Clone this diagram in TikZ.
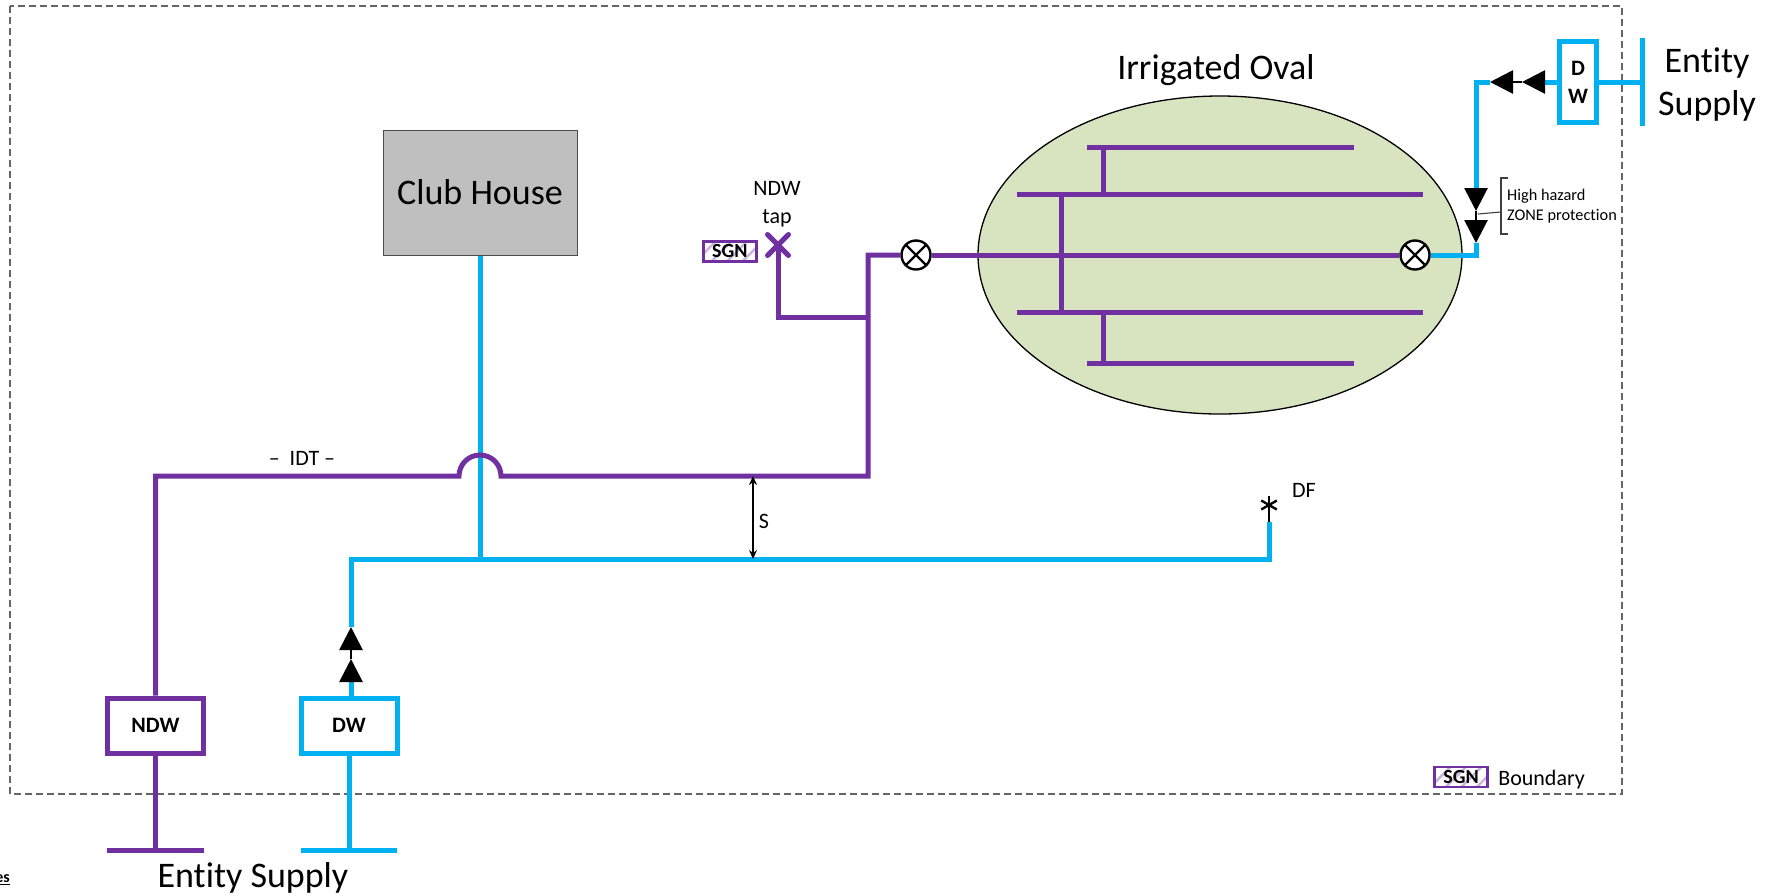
\documentclass[tikz,border=0pt]{standalone}
\usepackage{fontspec}
\setmainfont[Ligatures=NoCommon]{Carlito}
\usetikzlibrary{positioning, arrows.meta, shapes.geometric, shapes.misc, patterns.meta}
\definecolor{ndwcol}{HTML}{7030A0}
\definecolor{dwcol}{HTML}{00B0F0}
\definecolor{ovalcol}{HTML}{D8E3BF}
\definecolor{hatchcol}{HTML}{C9B5DD}

\begin{document}
\begin{tikzpicture}[
        x=1pt, y=-1pt,
        >={Stealth[length=9pt,width=8pt]},
        % Pipes
        ndwpipe/.style={draw=ndwcol, line width=5pt},
        dwpipe/.style={draw=dwcol, line width=5pt},
        % Meter boxes
        meter/.style={draw, rectangle, fill=white, line width=5pt, inner sep=0pt, minimum width=96pt, minimum height=55pt, align=center, font=\fontsize{22}{28}\selectfont\bfseries},
        % Check valves
        valve/.style={draw=black, line width=2.8pt, -{Triangle[length=23pt,width=23pt]}},
        % Isolating valves
        isol/.style={circle, draw=black, fill=white, line width=2.4pt, inner sep=0pt, minimum size=29pt,
            path picture={\draw[line width=2.4pt] (path picture bounding box.north west) -- (path picture bounding box.south east) (path picture bounding box.north east) -- (path picture bounding box.south west);}},
        % Signs
        sgn/.style={draw=ndwcol, line width=2.5pt, inner sep=0pt, minimum width=53pt, minimum height=20pt, font=\fontsize{20}{24}\selectfont\bfseries, pattern={Lines[angle=45,distance=11pt,line width=2.5pt]}, pattern color=hatchcol},
        big/.style={font=\fontsize{36}{43}\selectfont, align=center},
        mid/.style={font=\fontsize{22}{28}\selectfont, align=center},
        small/.style={font=\fontsize{16.3}{20}\selectfont, align=left},
        node distance=10pt
    ]
        \useasboundingbox (0,0) rectangle (1766,895);

        % Boundary
        \draw[draw=black!60, line width=1.3pt, dash pattern=on 7pt off 4pt] (10,6) rectangle (1622,794);

        % Nodes
        \node[ellipse, draw=black, line width=1.3pt, fill=ovalcol, minimum width=484pt, minimum height=318pt, inner sep=0pt] (oval) at (1220,255) {};
        \node[big] (ovallabel) at (1216,70) {Irrigated Oval};
        \node[draw=black!70, line width=1pt, fill=black!25, minimum width=194pt, minimum height=125pt, big] (club) at (480,192.5) {Club House};
        \node[meter, draw=ndwcol] (ndw) at (155.5,725.5) {NDW};
        \node[meter, draw=dwcol, right=92.5pt of ndw] (dw) {DW};
        \node[meter, draw=dwcol, minimum width=37pt, minimum height=81pt] (dwtop) at (1578,82) {D\\W};
        \node[isol] (isoleft) at (916,255) {};
        \node[isol] (isoright) at (1415,255) {};
        \node[cross out, draw=ndwcol, line width=5pt, line cap=round, minimum size=16pt, inner sep=0pt] (tap) at (778,245) {};
        \node[sgn, left=10pt of tap, yshift=-6.5pt] (sgntap) {SGN};
        \node[mid] (taplabel) at (777,204) {NDW\\tap};
        \node[sgn] (sgnbound) at (1461,777) {SGN};
        \node[mid, right=6pt of sgnbound, yshift=-3pt] (boundlabel) {Boundary};
        \node[big] (supplyright) at (1707,85) {Entity\\Supply};
        \node[big] (supplyleft) at (253,878) {Entity Supply};
        \node[mid] (idtlabel) at (302,458) {–~~IDT –};
        \node[mid] (dflabel) at (1304,490) {DF};
        \node[mid] (slabel) at (764,521) {S};
        \node[small, anchor=west, inner sep=0pt] (hazard) at (1507,206) {High hazard\\ZONE protection};
        \node[font=\fontsize{16}{18}\selectfont\bfseries, anchor=east, inner sep=0pt] (cutlabel) at (10,880) {\underline{es}};

        % Junction points
        \coordinate (barndwl) at (107,850);
        \coordinate (barndwr) at (204,850);
        \coordinate (bardwl) at (301,850);
        \coordinate (bardwr) at (397,850);
        \coordinate (barndwm) at (155.5,850);
        \coordinate (bardwm) at (349,850);
        \coordinate (bartopa) at (1642,38);
        \coordinate (bartopb) at (1642,126);
        \coordinate (bartopm) at (1642,82);
        \coordinate (mainl) at (351,559);
        \coordinate (mainm) at (480,559);
        \coordinate (mainr) at (1269,559);
        \coordinate (dfpipe) at (1269,522);
        \coordinate (dfhead) at (1269,505);
        \coordinate (corner) at (1476,82);
        \coordinate (cornerb) at (1476,255);
        \coordinate (idtl) at (155.5,476);
        \coordinate (jumpl) at (459,476);
        \coordinate (idtr) at (868,476);
        \coordinate (idttop) at (868,255);
        \coordinate (tee) at (868,317);
        \coordinate (teeb) at (778,317);
        \coordinate (sup) at (753,476);
        \coordinate (sdown) at (753,559);

        % Drinking water pipes
        \draw[dwpipe] (bardwl) -- (bardwr);
        \draw[dwpipe] (dw.south) -- (bardwm);
        \draw[dwpipe] (dw.north -| mainl) -- (351,681);
        \draw[dwpipe] (351,627) -- (mainl) -- (mainr) -- (dfpipe);
        \draw[dwpipe] (club.south) -- (mainm);
        \draw[dwpipe] (bartopa) -- (bartopb);
        \draw[dwpipe] (dwtop.east) -- (bartopm);
        \draw[dwpipe] (dwtop.west) -- (1544,82);
        \draw[dwpipe] (1490,82) -- (corner) -- (1476,189);
        \draw[dwpipe] (1476,243) -- (cornerb) -- (isoright.east);

        % Non drinking water pipes
        \draw[ndwpipe] (barndwl) -- (barndwr);
        \draw[ndwpipe] (ndw.south) -- (barndwm);
        \draw[ndwpipe] (ndw.north) -- (idtl) -- (jumpl) arc[start angle=180, end angle=360, radius=21] -- (idtr) -- (idttop) -- (isoleft.west);
        \draw[ndwpipe] (tee) -- (teeb) -- (tap.center);

        % Oval pipes
        \draw[ndwpipe] (isoleft.east) -- (isoright.west);
        \draw[ndwpipe] (1087,147) -- (1354,147);
        \draw[ndwpipe] (1017,194) -- (1423,194);
        \draw[ndwpipe] (1017,312) -- (1423,312);
        \draw[ndwpipe] (1087,363) -- (1354,363);
        \draw[ndwpipe] (1061,194) -- (1061,312);
        \draw[ndwpipe] (1103,147) -- (1103,194);
        \draw[ndwpipe] (1103,312) -- (1103,363);

        % Backflow valves
        \foreach \xa/\ya/\xb/\yb/\xc/\yc in {351/681/351/659/351/627, 1544/82/1522/82/1490/82, 1476/189/1476/211/1476/243}{
            \draw[valve] (\xa,\ya) -- (\xb,\yb);
            \draw[valve] (\xb,\yb) -- (\xc,\yc);
        }

        % Dual fitting
        \draw[line width=2.4pt] (dfpipe) -- (dfhead);
        \foreach \ang in {30,90,150}
            \draw[line width=2.4pt] (dfhead) ++(\ang:9) -- ++(\ang+180:18);

        % Separation
        \draw[<->, line width=1.3pt] (sup) -- (sdown);

        % Bracket
        \draw[draw=black!75, line width=1.1pt] (1508,178) -- (1501,178) -- (1501,234) -- (1508,234);
        \draw[draw=black!75, line width=1.1pt] (1478,214) -- (1501,212);
\end{tikzpicture}
\end{document}
